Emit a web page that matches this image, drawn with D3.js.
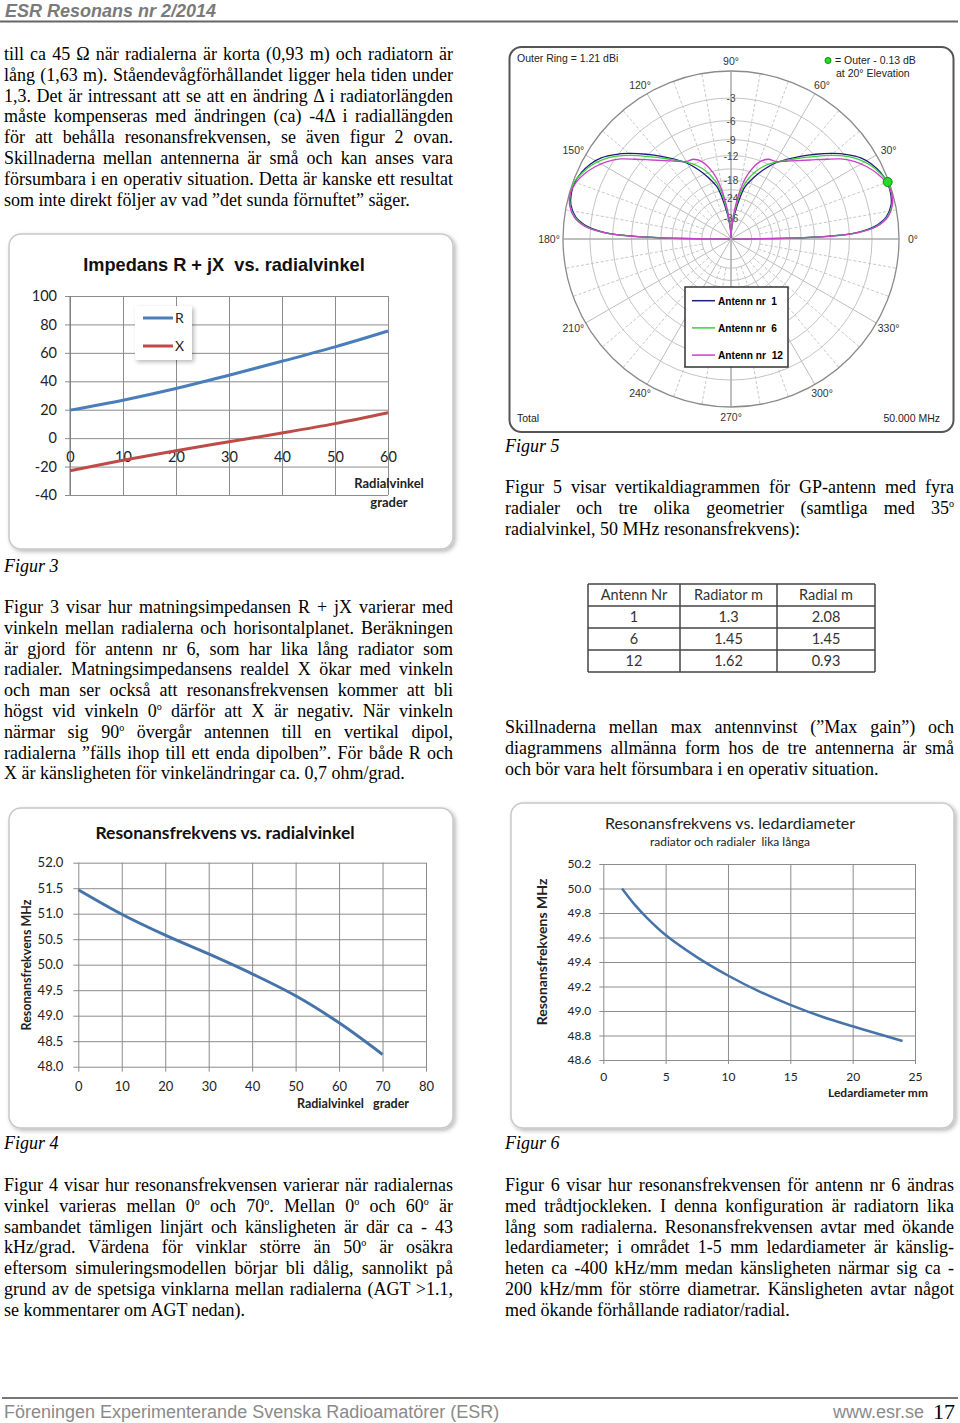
<!DOCTYPE html>
<html><head><meta charset="utf-8">
<script src="https://cdn.jsdelivr.net/npm/d3@7"></script>
<style>
body{margin:0;background:#fff;}
#page{position:relative;width:960px;height:1423px;overflow:hidden;background:#fff;}
svg{display:block;}
</style>
</head><body><div id="page"></div>
<script>
// ---------------- DATA ----------------
// Figure 3: impedance vs radial angle
const f3Angles = [0, 10, 20, 30, 40, 50, 60];
const f3R = [19.7, 26.7, 34.9, 44.3, 54.1, 64.2, 75.4];
const f3X = [-22.9, -15.6, -8.8, -2.6, 3.6, 10.2, 17.8];
const f3YTicks = [-40, -20, 0, 20, 40, 60, 80, 100];
const f3XTicks = [0, 10, 20, 30, 40, 50, 60];

// Figure 4: resonance frequency vs radial angle
const f4Angles = [0, 10, 20, 30, 40, 50, 60, 70];
const f4Freq = [51.47, 50.99, 50.58, 50.21, 49.82, 49.39, 48.86, 48.24];
const f4YTicks = [48.0, 48.5, 49.0, 49.5, 50.0, 50.5, 51.0, 51.5, 52.0];
const f4XTicks = [0, 10, 20, 30, 40, 50, 60, 70, 80];

// Figure 6: resonance frequency vs conductor diameter
const f6Diam = [1.5, 2.5, 3.5, 5, 7.5, 10, 12.5, 15, 17.5, 20, 22.5, 24];
const f6Freq = [50.00, 49.87, 49.76, 49.62, 49.44, 49.29, 49.16, 49.05, 48.955, 48.875, 48.80, 48.755];
const f6YTicks = [48.6, 48.8, 49.0, 49.2, 49.4, 49.6, 49.8, 50.0, 50.2];
const f6XTicks = [0, 5, 10, 15, 20, 25];

// Figure 5: elevation patterns (dB relative to outer ring) vs elevation angle
const elev  = [0, 1, 2, 3, 5, 8, 12, 16, 20, 24, 28, 32, 36, 40, 45, 50, 55, 60, 65, 70, 75, 78, 82, 86, 90];
const ant1  = [-80, -15, -7.5, -4.8, -2.6, -1.2, -0.45, -0.2, -0.2, -0.45, -0.9, -1.6, -2.7, -4.0, -5.8, -7.6, -9.4, -11.2, -13.6, -16.3, -19.5, -24, -33, -45, -80];
const ant6  = [-80, -14.5, -7.2, -4.6, -2.4, -1.1, -0.35, -0.1, -0.13, -0.55, -1.1, -1.9, -3.0, -4.4, -6.3, -8.0, -9.6, -11.0, -12.5, -14.6, -17.8, -21, -30, -43, -80];
const ant12 = [-80, -14, -7, -4.5, -2.3, -1.0, -0.3, -0.1, -0.3, -0.8, -1.5, -2.4, -3.6, -5.2, -7.0, -8.5, -9.8, -10.8, -11.1, -12.4, -15.5, -18.7, -27, -42, -80];
const antNames = ["Antenn nr  1", "Antenn nr  6", "Antenn nr  12"];
const ringDb = [-3, -6, -9, -12, -15, -18, -21, -24, -30, -36];
const ringLabels = [-3, -6, -9, -12, -18, -24, -36];
const angleLabels = [0, 30, 60, 90, 120, 150, 180, 210, 240, 270, 300, 330];

// Table
const tableHeader = ["Antenn Nr", "Radiator m", "Radial m"];
const tabAnt = ["1", "6", "12"];
const tabRadiator = ["1.3", "1.45", "1.62"];
const tabRadial = ["2.08", "1.45", "0.93"];

// Body text
const textTop = [
 "till ca 45 Ω när radialerna är korta (0,93 m)  och radiatorn är",
 "lång (1,63 m). Ståendevågförhållandet ligger hela tiden under",
 "1,3. Det är intressant att se att en ändring Δ i radiatorlängden",
 "måste kompenseras med ändringen (ca) -4Δ i radiallängden",
 "för att behålla resonansfrekvensen, se även figur 2 ovan.",
 "Skillnaderna mellan antennerna är små och kan anses vara",
 "försumbara i en operativ situation. Detta är kanske ett resultat",
 "som inte direkt följer av vad ”det sunda förnuftet” säger."];
const textFig3 = [
 "Figur 3 visar hur matningsimpedansen  R + jX varierar med",
 "vinkeln mellan radialerna och horisontalplanet. Beräkningen",
 "är gjord för antenn nr 6, som har lika lång radiator som",
 "radialer. Matningsimpedansens realdel X ökar med vinkeln",
 "och man ser också att resonansfrekvensen kommer att bli",
 "högst vid vinkeln 0^o därför att X är negativ. När vinkeln",
 "närmar sig 90^o övergår antennen till en vertikal dipol,",
 "radialerna ”fälls ihop till ett enda dipolben”. För både R och",
 "X är känsligheten för vinkeländringar ca. 0,7 ohm/grad."];
const textFig4 = [
 "Figur 4 visar hur resonansfrekvensen varierar när radialernas",
 "vinkel varieras mellan 0^o och 70^o. Mellan 0^o och 60^o är",
 "sambandet tämligen linjärt och känsligheten är där ca - 43",
 "kHz/grad. Värdena för vinklar större än 50^o är osäkra",
 "eftersom simuleringsmodellen börjar bli dålig, sannolikt på",
 "grund av de spetsiga vinklarna mellan radialerna (AGT >1.1,",
 "se kommentarer om AGT nedan)."];
const textFig5 = [
 "Figur 5 visar vertikaldiagrammen för GP-antenn med fyra",
 "radialer och tre olika geometrier (samtliga med 35^o",
 "radialvinkel, 50 MHz resonansfrekvens):"];
const textTable = [
 "Skillnaderna mellan max antennvinst (”Max gain”) och",
 "diagrammens allmänna form hos de tre antennerna är små",
 "och bör vara helt försumbara i en operativ situation."];
const textFig6 = [
 "Figur 6 visar hur resonansfrekvensen för antenn nr 6 ändras",
 "med trådtjockleken. I denna konfiguration är radiatorn lika",
 "lång som radialerna. Resonansfrekvensen avtar med ökande",
 "ledardiameter; i området 1-5 mm ledardiameter är känslig-",
 "heten ca -400 kHz/mm medan känsligheten närmar sig ca -",
 "200 kHz/mm för större diametrar. Känsligheten avtar något",
 "med ökande förhållande radiator/radial."];

// ---------------- SETUP ----------------
const SERIF = "'Liberation Serif','Times New Roman',serif";
const ARIAL = "'Liberation Sans',Arial,sans-serif";
const CAL = "Lato,'Open Sans',sans-serif";
const svg = d3.select('#page').append('svg').attr('width', 960).attr('height', 1423);
const defs = svg.append('defs');
const flt = defs.append('filter').attr('id', 'sh').attr('x', '-5%').attr('y', '-5%').attr('width', '115%').attr('height', '115%');
flt.append('feDropShadow').attr('dx', 2).attr('dy', 2).attr('stdDeviation', 2).attr('flood-color', '#000').attr('flood-opacity', 0.28);

// header & footer
svg.append('text').attr('x', 5).attr('y', 17).attr('font-family', ARIAL).attr('font-weight', 'bold')
  .attr('font-style', 'italic').attr('font-size', 18).attr('fill', '#7a7a7a').text('ESR Resonans nr 2/2014');
svg.append('line').attr('x1', 0).attr('x2', 958).attr('y1', 21.5).attr('y2', 21.5).attr('stroke', '#666').attr('stroke-width', 2);
svg.append('line').attr('x1', 2).attr('x2', 958).attr('y1', 1398).attr('y2', 1398).attr('stroke', '#777').attr('stroke-width', 2);
svg.append('text').attr('x', 4).attr('y', 1418).attr('font-family', ARIAL).attr('font-size', 18).attr('fill', '#8a8a8a')
  .text('Föreningen Experimenterande Svenska Radioamatörer (ESR)');
svg.append('text').attr('x', 924).attr('y', 1418).attr('text-anchor', 'end').attr('font-family', ARIAL).attr('font-size', 18).attr('fill', '#8a8a8a').text('www.esr.se');
svg.append('text').attr('x', 933).attr('y', 1419).attr('font-family', SERIF).attr('font-size', 22).attr('fill', '#000').text('17');

// body text helper
const FS = 18;
function addLine(x, cy, w, str, justify, italic) {
  const t = svg.append('text').attr('x', x).attr('y', cy + 6).attr('font-family', SERIF).attr('font-size', FS).attr('fill', '#000');
  if (italic) t.attr('font-style', 'italic');
  str.split('^o').forEach((p, i) => {
    if (i > 0) {
      t.append('tspan').attr('dy', -7).attr('font-size', 10).text('o');
      t.append('tspan').attr('dy', 7).text(p);
    } else t.append('tspan').text(p);
  });
  if (justify) {
    const n = (str.replace(/\s+/g, ' ').trim().match(/ /g) || []).length;
    const L = t.node().getComputedTextLength();
    if (n > 0) t.style('word-spacing', ((w - L) / n) + 'px');
  }
}
function block(lines, x, y0, w) {
  lines.forEach((s, i) => addLine(x, y0 + i * 20.8, w, s, i < lines.length - 1, false));
}
block(textTop, 4, 54, 449);
block(textFig3, 4, 607, 449);
block(textFig4, 4, 1185, 449);
block(textFig5, 505, 487, 449);
block(textTable, 505, 727, 449);
block(textFig6, 505, 1185, 449);
addLine(4, 566, 0, 'Figur 3', false, true);
addLine(505, 446, 0, 'Figur 5', false, true);
addLine(4, 1143, 0, 'Figur 4', false, true);
addLine(505, 1143, 0, 'Figur 6', false, true);

// chart frame helper
function frame(x0, y0, x1, y1) {
  svg.append('rect').attr('x', x0).attr('y', y0).attr('width', x1 - x0).attr('height', y1 - y0).attr('rx', 12)
    .attr('fill', '#fff').attr('stroke', '#c8c8c8').attr('stroke-width', 1.5).attr('filter', 'url(#sh)');
}
const GRID = '#8c8c8c';
function styleAxis(g, font, size) {
  g.select('.domain').remove();
  g.selectAll('.tick line').attr('stroke', GRID).attr('stroke-width', 1);
  g.selectAll('.tick text').attr('font-family', font).attr('font-size', size).attr('fill', '#222');
}

// ---------------- FIGURE 3 ----------------
frame(9, 234, 453, 549);
{
  const x = d3.scaleLinear().domain([0, 60]).range([70, 388]);
  const y = d3.scaleLinear().domain([-40, 100]).range([495, 296]);
  const gy = svg.append('g').attr('transform', 'translate(70,0)')
    .call(d3.axisLeft(y).tickValues(f3YTicks).tickSize(-318).tickPadding(13).tickFormat(d => String(d)));
  styleAxis(gy, CAL, 14.5); gy.selectAll('.tick line').attr('x1', -5);
  const gx = svg.append('g').attr('transform', 'translate(0,495)')
    .call(d3.axisBottom(x).tickValues(f3XTicks).tickSize(-199).tickFormat(''));
  styleAxis(gx, CAL, 14.5);
  const gl = svg.append('g').attr('transform', `translate(0,${y(0)})`)
    .call(d3.axisBottom(x).tickValues(f3XTicks).tickSize(0).tickPadding(14));
  styleAxis(gl, CAL, 14.5);
  svg.append('line').attr('x1', 70).attr('x2', 70).attr('y1', 296).attr('y2', 495).attr('stroke', '#777');
  const line = d3.line().x((d, i) => x(f3Angles[i])).y(d => y(d)).curve(d3.curveCatmullRom);
  svg.append('path').attr('d', line(f3R)).attr('fill', 'none').attr('stroke', '#4a7ebb').attr('stroke-width', 3);
  svg.append('path').attr('d', line(f3X)).attr('fill', 'none').attr('stroke', '#be4b48').attr('stroke-width', 3);
  svg.append('text').attr('x', 224).attr('y', 271).attr('text-anchor', 'middle').attr('font-family', ARIAL)
    .attr('font-weight', 'bold').attr('font-size', 18.2).attr('fill', '#111').attr('xml:space', 'preserve')
    .text('Impedans R + jX  vs. radialvinkel');
  svg.append('text').attr('x', 389).attr('y', 488).attr('text-anchor', 'middle').attr('font-family', CAL)
    .attr('font-weight', 'bold').attr('font-size', 13).attr('fill', '#222').text('Radialvinkel');
  svg.append('text').attr('x', 389).attr('y', 507).attr('text-anchor', 'middle').attr('font-family', CAL)
    .attr('font-weight', 'bold').attr('font-size', 13).attr('fill', '#222').text('grader');
  // legend
  svg.append('rect').attr('x', 135).attr('y', 306).attr('width', 57).attr('height', 54).attr('fill', '#fff')
    .attr('filter', 'url(#sh)');
  [['R', '#4a7ebb', 318], ['X', '#be4b48', 346]].forEach(([n, c, yy]) => {
    svg.append('line').attr('x1', 143).attr('x2', 173).attr('y1', yy).attr('y2', yy).attr('stroke', c).attr('stroke-width', 3);
    svg.append('text').attr('x', 175).attr('y', yy + 5).attr('font-family', CAL).attr('font-size', 14).attr('fill', '#222').text(n);
  });
}

// ---------------- FIGURE 4 ----------------
frame(9, 808, 453, 1128);
{
  const x = d3.scaleLinear().domain([0, 80]).range([78.3, 426]);
  const y = d3.scaleLinear().domain([48, 52]).range([1066.7, 862.7]);
  const gy = svg.append('g').attr('transform', 'translate(78.3,0)')
    .call(d3.axisLeft(y).tickValues(f4YTicks).tickSize(-347.7).tickPadding(15).tickFormat(d3.format('.1f')));
  styleAxis(gy, CAL, 13); gy.selectAll('.tick line').attr('x1', -5);
  const gx = svg.append('g').attr('transform', 'translate(0,1066.7)')
    .call(d3.axisBottom(x).tickValues(f4XTicks).tickSize(-204).tickPadding(15));
  styleAxis(gx, CAL, 13); gx.selectAll('.tick line').attr('y1', 5);
  const line = d3.line().x((d, i) => x(f4Angles[i])).y(d => y(d)).curve(d3.curveCatmullRom);
  svg.append('path').attr('d', line(f4Freq)).attr('fill', 'none').attr('stroke', '#4674aa').attr('stroke-width', 3);
  svg.append('text').attr('x', 225).attr('y', 839).attr('text-anchor', 'middle').attr('font-family', CAL)
    .attr('font-weight', 'bold').attr('font-size', 17.5).attr('fill', '#111').text('Resonansfrekvens vs. radialvinkel');
  svg.append('text').attr('x', 353).attr('y', 1108).attr('text-anchor', 'middle').attr('font-family', CAL)
    .attr('font-weight', 'bold').attr('font-size', 12.5).attr('fill', '#222').attr('xml:space', 'preserve').text('Radialvinkel   grader');
  svg.append('text').attr('transform', 'translate(31,965) rotate(-90)').attr('text-anchor', 'middle').attr('font-family', CAL)
    .attr('font-weight', 'bold').attr('font-size', 12.5).attr('fill', '#222').text('Resonansfrekvens  MHz');
}

// ---------------- FIGURE 6 ----------------
frame(511, 803, 954, 1128);
{
  const x = d3.scaleLinear().domain([0, 25]).range([603.3, 915]);
  const y = d3.scaleLinear().domain([48.6, 50.2]).range([1060, 864]);
  const gy = svg.append('g').attr('transform', 'translate(603.3,0)')
    .call(d3.axisLeft(y).tickValues(f6YTicks).tickSize(-311.7).tickPadding(12).tickFormat(d3.format('.1f')));
  styleAxis(gy, CAL, 12); gy.selectAll('.tick line').attr('x1', -4);
  const gx = svg.append('g').attr('transform', 'translate(0,1060)')
    .call(d3.axisBottom(x).tickValues(f6XTicks).tickSize(-196).tickPadding(12));
  styleAxis(gx, CAL, 12); gx.selectAll('.tick line').attr('y1', 4);
  const line = d3.line().x((d, i) => x(f6Diam[i])).y(d => y(d)).curve(d3.curveCatmullRom);
  svg.append('path').attr('d', line(f6Freq)).attr('fill', 'none').attr('stroke', '#4674aa').attr('stroke-width', 2.5);
  svg.append('text').attr('x', 730).attr('y', 829).attr('text-anchor', 'middle').attr('font-family', CAL)
    .attr('font-size', 16).attr('fill', '#222').text('Resonansfrekvens vs. ledardiameter');
  svg.append('text').attr('x', 730).attr('y', 846).attr('text-anchor', 'middle').attr('font-family', CAL)
    .attr('font-size', 12).attr('fill', '#222').attr('xml:space', 'preserve').text('radiator och radialer  lika långa');
  svg.append('text').attr('x', 878).attr('y', 1097).attr('text-anchor', 'middle').attr('font-family', CAL)
    .attr('font-weight', 'bold').attr('font-size', 12).attr('fill', '#222').text('Ledardiameter mm');
  svg.append('text').attr('transform', 'translate(547,952) rotate(-90)').attr('text-anchor', 'middle').attr('font-family', CAL)
    .attr('font-weight', 'bold').attr('font-size', 14).attr('fill', '#222').text('Resonansfrekvens MHz');
}

// ---------------- TABLE ----------------
{
  const cols = d3.scaleOrdinal().domain([0, 1, 2, 3]).range([588, 680, 777, 875]);
  const rows = d3.scaleLinear().domain([0, 4]).range([584, 672]);
  const g = svg.append('g');
  [0, 1, 2, 3, 4].forEach(r => g.append('line').attr('x1', 588).attr('x2', 875).attr('y1', rows(r)).attr('y2', rows(r))
    .attr('stroke', '#444').attr('stroke-width', 1.5));
  [0, 1, 2, 3].forEach(c => g.append('line').attr('x1', cols(c)).attr('x2', cols(c)).attr('y1', 584).attr('y2', 672)
    .attr('stroke', '#444').attr('stroke-width', 1.5));
  const allRows = [tableHeader].concat(tabAnt.map((a, i) => [a, tabRadiator[i], tabRadial[i]]));
  allRows.forEach((row, r) => row.forEach((v, c) => {
    g.append('text').attr('x', (cols(c) + cols(c + 1)) / 2).attr('y', rows(r) + 16).attr('text-anchor', 'middle')
      .attr('font-family', CAL).attr('font-size', 14.5).attr('fill', '#333').text(v);
  }));
}

// ---------------- FIGURE 5 (polar) ----------------
{
  svg.append('rect').attr('x', 509.5).attr('y', 47).attr('width', 444).attr('height', 385).attr('rx', 12)
    .attr('fill', '#fff').attr('stroke', '#555').attr('stroke-width', 2);
  const cx = 731, cy = 239, R = 168;
  // ARRL log scale: each 2 dB -> factor 0.89
  const logR = d3.scaleLinear().domain([0, -2]).range([0, Math.log(0.89)]);
  const rad = db => R * Math.exp(logR(db));
  const g = svg.append('g').attr('transform', `translate(${cx},${cy})`);
  // radial lines
  d3.range(0, 360, 10).forEach(a => {
    const solid = a % 30 === 0;
    const r0 = solid ? 0 : rad(-30);
    const t = a * Math.PI / 180;
    g.append('line').attr('x1', r0 * Math.cos(t)).attr('y1', -r0 * Math.sin(t))
      .attr('x2', R * Math.cos(t)).attr('y2', -R * Math.sin(t))
      .attr('stroke', solid ? '#bdbdbd' : '#c8c8c8').attr('stroke-width', 1)
      .attr('stroke-dasharray', solid ? null : '3,2');
  });
  ringDb.forEach(d => g.append('circle').attr('r', rad(d)).attr('fill', 'none').attr('stroke', '#c4c4c4').attr('stroke-width', 1));
  g.append('circle').attr('r', R).attr('fill', 'none').attr('stroke', '#8a8a8a').attr('stroke-width', 1.3);
  g.append('line').attr('x1', -R).attr('x2', R).attr('y1', 0).attr('y2', 0).attr('stroke', '#a0a0a0');
  g.append('line').attr('y1', -R).attr('y2', R).attr('x1', 0).attr('x2', 0).attr('stroke', '#a0a0a0');
  ringLabels.forEach(d => g.append('text').attr('x', 0).attr('y', -rad(d) + 4).attr('text-anchor', 'middle')
    .attr('font-family', ARIAL).attr('font-size', 10).attr('fill', '#444').text(d));
  angleLabels.forEach(a => {
    const t = a * Math.PI / 180;
    g.append('text').attr('x', 182 * Math.cos(t)).attr('y', -178 * Math.sin(t) + 4).attr('text-anchor', 'middle')
      .attr('font-family', ARIAL).attr('font-size', 10.5).attr('fill', '#333').text(a + '°');
  });
  const series = [[ant1, '#1c1c7a'], [ant6, '#3ccf3c'], [ant12, '#cc3fcc']];
  const radial = d3.lineRadial().curve(d3.curveCatmullRom.alpha(0.5));
  series.forEach(([vals, col]) => {
    const right = elev.map((e, i) => [Math.PI / 2 - e * Math.PI / 180, rad(vals[i])]);
    const left = elev.map((e, i) => [Math.PI / 2 - (180 - e) * Math.PI / 180, rad(vals[i])]);
    g.append('path').attr('d', radial(right)).attr('fill', 'none').attr('stroke', col).attr('stroke-width', 1.3);
    g.append('path').attr('d', radial(left)).attr('fill', 'none').attr('stroke', col).attr('stroke-width', 1.3);
  });
  // cursor dot at 20 deg
  const tDot = 20 * Math.PI / 180, rDot = rad(-0.13);
  g.append('circle').attr('cx', rDot * Math.cos(tDot)).attr('cy', -rDot * Math.sin(tDot)).attr('r', 4.5)
    .attr('fill', '#22dd22').attr('stroke', '#118811');
  // texts
  const T = (x, y, s, o = {}) => svg.append('text').attr('x', x).attr('y', y).attr('font-family', ARIAL)
    .attr('font-size', o.size || 10.5).attr('fill', '#222').attr('font-weight', o.bold ? 'bold' : null)
    .attr('text-anchor', o.anchor || 'start').text(s);
  T(517, 62, 'Outer Ring = 1.21 dBi');
  svg.append('circle').attr('cx', 828).attr('cy', 60.5).attr('r', 3).attr('fill', '#22dd22').attr('stroke', '#118811');
  T(835, 64, '= Outer - 0.13 dB');
  T(836, 77, 'at 20° Elevation');
  T(517, 422, 'Total');
  T(940, 422, '50.000 MHz', { anchor: 'end' });
  // legend
  svg.append('rect').attr('x', 685).attr('y', 287).attr('width', 103).attr('height', 80).attr('fill', '#fff')
    .attr('stroke', '#333').attr('stroke-width', 1.5);
  const legW = [59, 59, 65];
  series.forEach(([v, col], i) => {
    const yy = 300.7 + i * 27.2;
    svg.append('line').attr('x1', 692).attr('x2', 715).attr('y1', yy).attr('y2', yy).attr('stroke', col).attr('stroke-width', 1.5);
    T(718, yy + 4, antNames[i], { bold: true, size: 11 }).attr('fill', '#000').attr('xml:space', 'preserve')
      .attr('textLength', legW[i]).attr('lengthAdjust', 'spacingAndGlyphs');
  });
}
</script></body></html>
